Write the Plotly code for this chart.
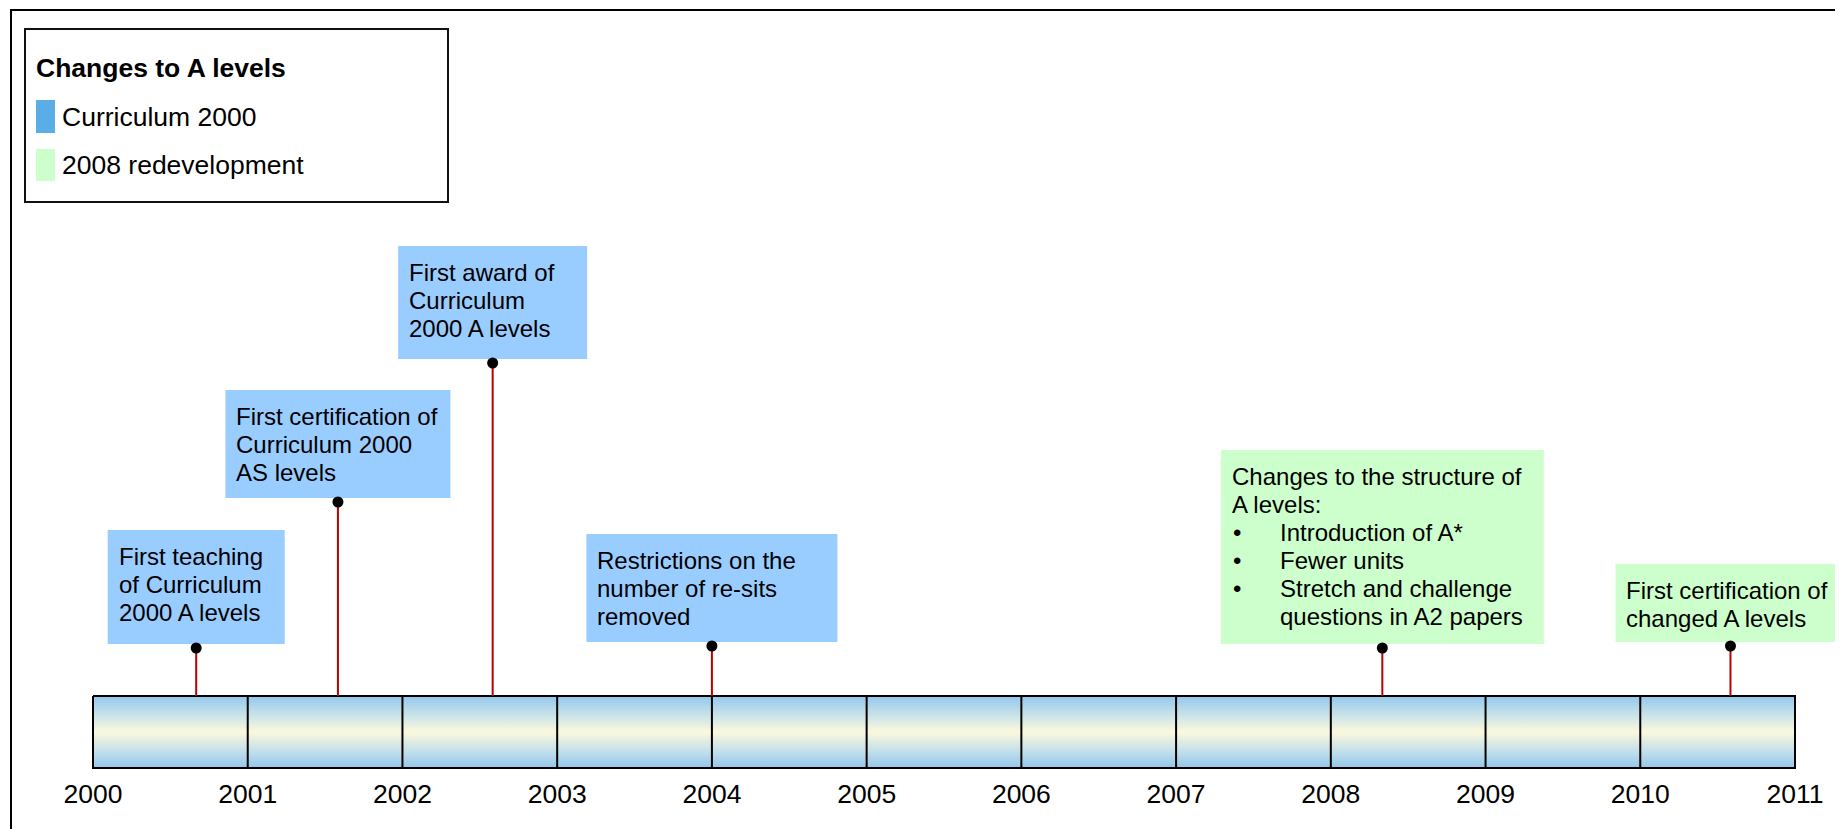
import plotly.graph_objects as go

# ---------------- data ----------------
years = list(range(2000, 2012))
year_labels = [str(y) for y in years]

event_dates = [2000.667, 2001.583, 2002.583, 2004.0, 2008.333, 2010.583]
event_lines = [
    ["First teaching", "of Curriculum", "2000 A levels"],
    ["First certification of", "Curriculum 2000", "AS levels"],
    ["First award of", "Curriculum", "2000 A levels"],
    ["Restrictions on the", "number of re-sits", "removed"],
    ["Changes to the structure of", "A levels:", "• Introduction of A*",
     "• Fewer units", "• Stretch and challenge", "  questions in A2 papers"],
    ["First certification of", "changed A levels"],
]
event_groups = ["Curriculum 2000", "Curriculum 2000", "Curriculum 2000",
                "Curriculum 2000", "2008 redevelopment", "2008 redevelopment"]

legend_title = "Changes to A levels"
legend_groups = ["Curriculum 2000", "2008 redevelopment"]

# ---------------- styles / layout (page pixels) ----------------
OFF = 8                      # default page margin around the figure div
W, H = 1843 - OFF, 829 - OFF


def py(p):                   # page pixel -> y data (figure pixel)
    return p - OFF


def pxp(p):                  # page pixel -> x paper fraction
    return (p - OFF) / W


FONT = "Arial, 'Liberation Sans', sans-serif"
BOX_COLORS = {"Curriculum 2000": "#99CCFF", "2008 redevelopment": "#CCFFCC"}
SWATCH_COLORS = {"Curriculum 2000": "#5AAEE8", "2008 redevelopment": "#CCFFCC"}

bar_left_px, bar_right_px = 93, 1795
bar_top_px, bar_bot_px = 696, 768
px_per_year = (bar_right_px - bar_left_px) / (years[-1] - years[0])
x_range = [years[0] - (bar_left_px - OFF) / px_per_year,
           years[0] + (W - (bar_left_px - OFF)) / px_per_year]

stem_top_px = [648, 502, 363, 646, 648, 646]
box_width_px = [177, 225, 189, 251, 323, 230]
box_height_px = [114, 108, 113, 108, 194, 78]
LINE_H = 28
TEXT_SIZE = 24
BIG_SIZE = 26.5

fig = go.Figure()

# timeline bar with gradient
fig.add_trace(go.Scatter(
    x=[years[0], years[-1], years[-1], years[0], years[0]],
    y=[py(bar_top_px), py(bar_top_px), py(bar_bot_px), py(bar_bot_px), py(bar_top_px)],
    mode="lines", fill="toself",
    fillgradient=dict(type="vertical",
                      colorscale=[[0, "#93C7EC"], [0.25, "#C6E1EA"],
                                  [0.5, "#FBF9DC"], [0.75, "#C6E1EA"],
                                  [1, "#93C7EC"]]),
    line=dict(color="black", width=2), hoverinfo="skip", showlegend=False))

# year dividers
dx, dy = [], []
for yv in years[1:-1]:
    dx += [yv, yv, None]
    dy += [py(bar_top_px), py(bar_bot_px), None]
fig.add_trace(go.Scatter(x=dx, y=dy, mode="lines",
                         line=dict(color="black", width=2),
                         hoverinfo="skip", showlegend=False))

# stems
sx, sy = [], []
for d, t in zip(event_dates, stem_top_px):
    sx += [d, d, None]
    sy += [py(t), py(bar_top_px), None]
fig.add_trace(go.Scatter(x=sx, y=sy, mode="lines",
                         line=dict(color="#BB0000", width=2),
                         hoverinfo="skip", showlegend=False))

# dots
fig.add_trace(go.Scatter(x=event_dates, y=[py(t) for t in stem_top_px],
                         mode="markers", marker=dict(color="black", size=11),
                         hoverinfo="skip", showlegend=False))

shapes = []
annotations = []


def txt(x, y, s, xref="x", xshift=0, size=TEXT_SIZE):
    return dict(x=x, xref=xref, y=y, yref="y", xshift=xshift,
                xanchor="left", yanchor="middle", text=s, showarrow=False,
                borderpad=0, borderwidth=0,
                font=dict(size=size, color="black", family=FONT))


# event boxes & text
for d, lines, grp, top, w, h in zip(event_dates, event_lines, event_groups,
                                    stem_top_px, box_width_px, box_height_px):
    y1 = top - 4
    y0 = y1 - h
    shapes.append(dict(type="rect", xref="x", yref="y", xsizemode="pixel",
                       xanchor=d, x0=-w / 2, x1=w / 2, y0=py(y0), y1=py(y1),
                       fillcolor=BOX_COLORS[grp], line=dict(width=0),
                       layer="below"))
    base = -w / 2 + 11
    for i, ln in enumerate(lines):
        yc = py(y0 + 34 + LINE_H * i - 8)
        if ln.startswith("• "):
            annotations.append(txt(d, yc, "•", xshift=base + 1))
            annotations.append(txt(d, yc, ln[2:], xshift=base + 48))
        elif ln.startswith("  "):
            annotations.append(txt(d, yc, ln.strip(), xshift=base + 48))
        else:
            annotations.append(txt(d, yc, ln, xshift=base))

# outer frame
shapes.append(dict(type="rect", xref="paper", yref="y", x0=pxp(11), x1=1.05,
                   y0=py(10), y1=H + 30, line=dict(color="black", width=2),
                   fillcolor="rgba(0,0,0,0)", layer="below"))

# legend box
shapes.append(dict(type="rect", xref="paper", yref="y", x0=pxp(25), x1=pxp(448),
                   y0=py(29), y1=py(202), line=dict(color="#111", width=2),
                   fillcolor="white", layer="below"))
annotations.append(txt(pxp(36), py(68), "<b>" + legend_title + "</b>",
                       xref="paper", size=BIG_SIZE))
sw_y = [(100, 133), (149, 181)]
for grp, (a, b) in zip(legend_groups, sw_y):
    shapes.append(dict(type="rect", xref="paper", yref="y", x0=pxp(36), x1=pxp(55),
                       y0=py(a), y1=py(b), fillcolor=SWATCH_COLORS[grp],
                       line=dict(width=0)))
    annotations.append(txt(pxp(62), py((a + b) / 2), grp, xref="paper",
                           size=BIG_SIZE))

fig.update_layout(
    width=W, height=H,
    margin=dict(l=0, r=0, t=0, b=0),
    paper_bgcolor="white", plot_bgcolor="white",
    showlegend=False,
    shapes=shapes, annotations=annotations,
    font=dict(family=FONT, color="black"),
    xaxis=dict(range=x_range, domain=[0, 1], anchor="free",
               position=(H - py(bar_bot_px)) / H,
               tickvals=years, ticktext=year_labels, ticks="",
               ticklabelstandoff=7,
               showgrid=False, zeroline=False, showline=False,
               tickfont=dict(size=BIG_SIZE, color="black", family=FONT),
               fixedrange=True),
    yaxis=dict(range=[H, 0], domain=[0, 1], visible=False, fixedrange=True),
)

fig.write_html("out.html")
